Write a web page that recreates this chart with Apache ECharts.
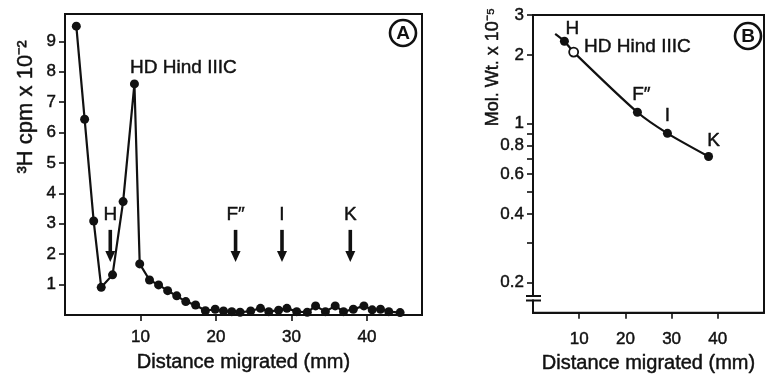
<!DOCTYPE html>
<html>
<head>
<meta charset="utf-8">
<script src="https://cdn.jsdelivr.net/npm/echarts@6/dist/echarts.min.js"></script>
<style>
html,body{margin:0;padding:0;background:#fff;}
#chart{width:770px;height:379px;}
</style>
</head>
<body>
<div id="chart"></div>
<script>
// ---------- Panel A data ----------
var distA = [1.5, 2.6, 3.8, 4.8, 6.3, 7.7, 9.2, 9.9, 11.2, 12.4, 13.6, 14.8, 16.0, 17.3, 18.6, 19.9, 21.0, 22.1, 23.2, 24.6, 25.9, 27.0, 28.3, 29.4, 30.7, 32.1, 33.2, 34.5, 35.8, 36.9, 38.2, 39.6, 40.7, 41.8, 42.9, 44.4];
var cpmA  = [9.5, 6.44, 3.09, 0.91, 1.32, 3.73, 7.6, 1.68, 1.15, 0.99, 0.8, 0.63, 0.44, 0.33, 0.14, 0.19, 0.13, 0.11, 0.09, 0.13, 0.22, 0.11, 0.16, 0.22, 0.11, 0.09, 0.3, 0.11, 0.3, 0.11, 0.19, 0.3, 0.17, 0.19, 0.11, 0.08];
var peakIndexA = 6;
var peakLabelA = 'HD Hind IIIC';
var markerLabelsA = ['H', 'F\u2033', 'I', 'K'];
var markerDistA = [6.0, 22.6, 28.75, 37.8];
var ticksA_y = [1, 2, 3, 4, 5, 6, 7, 8, 9];
var ticksA_x = [10, 20, 30, 40];

// ---------- Panel B data ----------
var distB = [4.8, 6.8, 8.8, 22.6, 29.1, 38.0];
var molWtB = [2.48, 2.30, 2.06, 1.12, 0.905, 0.716];
var labelsB = ['', 'H', 'HD Hind IIIC', 'F\u2033', 'I', 'K'];
var markerKindB = ['none', 'filled', 'open', 'filled', 'filled', 'filled'];
var ticksB_y = [0.2, 0.3, 0.4, 0.5, 0.6, 0.7, 0.8, 0.9, 1, 2, 3];
var labelsB_y = [0.2, 0.4, 0.6, 0.8, 1, 2, 3];
var ticksB_x = [10, 20, 30, 40];

var FONT = '"Liberation Sans", Arial, Helvetica, sans-serif';
var INK = '#111';
var THICK = {textBorderColor: INK, textBorderWidth: 0.45};

var chart = echarts.init(document.getElementById('chart'), null, {renderer: 'canvas'});

var seriesAData = distA.map(function (d, i) {
  var item = {value: [d, cpmA[i]]};
  if (i === peakIndexA) {
    item.label = Object.assign({show: true, formatter: peakLabelA, position: 'top', offset: [49, 3],
      fontSize: 19, fontFamily: FONT, color: INK}, THICK);
  }
  return item;
});

var labelPosB = {
  'H': {position: 'top', offset: [8, 7]},
  'HD Hind IIIC': {position: 'right', offset: [0, -5]},
  'F\u2033': {position: 'top', offset: [4, 1]},
  'I': {position: 'top', offset: [0, 1]},
  'K': {position: 'top', offset: [5, 3]}
};
var seriesBData = distB.map(function (d, i) {
  var kind = markerKindB[i];
  var item = {value: [d, molWtB[i]]};
  if (kind === 'none') { item.symbol = 'none'; }
  else if (kind === 'open') {
    item.symbol = 'circle';
    item.itemStyle = {color: '#fff', borderColor: INK, borderWidth: 1.8};
  }
  if (labelsB[i]) {
    var p = labelPosB[labelsB[i]];
    item.label = Object.assign({show: true, formatter: labelsB[i], position: p.position, offset: p.offset,
      fontSize: 19, fontFamily: FONT, color: INK}, THICK);
  }
  return item;
});

var axisLineStyle = {show: true, lineStyle: {color: INK, width: 2}};
var tickStyle = {show: true, inside: false, length: 6, lineStyle: {color: INK, width: 1.6}};
var labelStyle = Object.assign({color: INK, fontSize: 17, fontFamily: FONT}, THICK);
var nameStyle = Object.assign({fontSize: 20, fontFamily: FONT, color: INK}, THICK);

var option = {
  animation: false,
  backgroundColor: '#fff',
  grid: [
    {left: 65, top: 14, width: 357, height: 301, show: true, borderColor: INK, borderWidth: 2, containLabel: false},
    {left: 533, top: 15, width: 231, height: 301, show: true, borderColor: INK, borderWidth: 2, containLabel: false}
  ],
  xAxis: [
    {type: 'value', gridIndex: 0, min: 0, max: 47.3,
     axisLine: axisLineStyle,
     axisTick: Object.assign({}, tickStyle, {customValues: ticksA_x}),
     axisLabel: Object.assign({}, labelStyle, {customValues: ticksA_x, margin: 14}),
     splitLine: {show: false},
     name: 'Distance migrated (mm)', nameLocation: 'middle', nameGap: 37,
     nameTextStyle: nameStyle},
    {type: 'value', gridIndex: 1, min: 0, max: 50,
     axisLine: axisLineStyle,
     axisTick: Object.assign({}, tickStyle, {customValues: ticksB_x}),
     axisLabel: Object.assign({}, labelStyle, {customValues: ticksB_x, margin: 18}),
     splitLine: {show: false},
     name: 'Distance migrated (mm)', nameLocation: 'middle', nameGap: 41,
     nameTextStyle: nameStyle}
  ],
  yAxis: [
    {type: 'value', gridIndex: 0, min: 0, max: 9.9,
     axisLine: axisLineStyle,
     axisTick: Object.assign({}, tickStyle, {customValues: ticksA_y}),
     axisLabel: Object.assign({}, labelStyle, {customValues: ticksA_y, margin: 9}),
     splitLine: {show: false}},
    {type: 'log', logBase: 10, gridIndex: 1, min: 0.147, max: 3,
     axisLine: axisLineStyle,
     axisTick: Object.assign({}, tickStyle, {customValues: ticksB_y}),
     axisLabel: Object.assign({}, labelStyle, {customValues: labelsB_y, margin: 9,
       formatter: function (v) { return String(Math.round(v * 10) / 10); }}),
     minorTick: {show: false},
     splitLine: {show: false}}
  ],
  series: [
    {type: 'line', xAxisIndex: 0, yAxisIndex: 0, data: seriesAData,
     symbol: 'circle', symbolSize: 9, showAllSymbol: true,
     lineStyle: {color: INK, width: 2.2}, itemStyle: {color: INK}, z: 3},
    {type: 'custom', xAxisIndex: 0, yAxisIndex: 0,
     data: markerDistA.map(function (d, i) { return [d, i]; }),
     clip: false, z: 4,
     renderItem: function (params, api) {
       var x = api.value(0);
       var idx = api.value(1);
       var top = api.coord([x, 2.8]);
       var tip = api.coord([x, 1.74]);
       var lab = api.coord([x, 3.3]);
       var headLen = 11, headHalf = 5;
       return {
         type: 'group',
         children: [
           {type: 'rect', shape: {x: top[0] - 1.8, y: top[1], width: 3.6, height: tip[1] - headLen - top[1] + 1},
            style: {fill: INK}},
           {type: 'polygon', shape: {points: [[tip[0] - headHalf, tip[1] - headLen], [tip[0] + headHalf, tip[1] - headLen], [tip[0], tip[1]]]},
            style: {fill: INK}},
           {type: 'text', x: lab[0], y: lab[1],
            style: {text: markerLabelsA[idx], fill: INK, font: '19px ' + FONT, align: 'center', verticalAlign: 'middle',
                    stroke: INK, lineWidth: 0.45}}
         ]
       };
     }},
    {type: 'line', xAxisIndex: 1, yAxisIndex: 1, data: seriesBData,
     symbol: 'circle', symbolSize: 9, showAllSymbol: true, smooth: 0.25,
     lineStyle: {color: INK, width: 2.2}, itemStyle: {color: INK}, z: 3}
  ],
  graphic: [
    {type: 'text', x: 26, y: 107, rotation: Math.PI / 2,
     style: {text: '\u00b3H cpm x 10\u207b\u00b2', fill: INK, font: '22px ' + FONT, align: 'center', verticalAlign: 'middle',
             stroke: INK, lineWidth: 0.45}},
    {type: 'text', x: 493, y: 67, rotation: Math.PI / 2,
     style: {text: 'Mol. Wt. x 10\u207b\u2075', fill: INK, font: '18px ' + FONT, align: 'center', verticalAlign: 'middle',
             stroke: INK, lineWidth: 0.45}},
    {type: 'circle', shape: {cx: 403, cy: 33, r: 13}, style: {fill: '#fff', stroke: INK, lineWidth: 2.6}},
    {type: 'text', x: 403, y: 33.5, style: {text: 'A', fill: INK, font: 'bold 19px ' + FONT, align: 'center', verticalAlign: 'middle'}},
    {type: 'circle', shape: {cx: 748, cy: 36, r: 13}, style: {fill: '#fff', stroke: INK, lineWidth: 2.6}},
    {type: 'text', x: 748, y: 36.5, style: {text: 'B', fill: INK, font: 'bold 19px ' + FONT, align: 'center', verticalAlign: 'middle'}},
    {type: 'rect', shape: {x: 62, y: 85, width: 6, height: 6}, style: {fill: '#fff'}},
    {type: 'rect', shape: {x: 530, y: 296.5, width: 6, height: 3}, style: {fill: '#fff'}, z: 10},
    {type: 'line', shape: {x1: 526, y1: 296, x2: 541, y2: 296}, style: {stroke: INK, lineWidth: 2}, z: 10},
    {type: 'line', shape: {x1: 526, y1: 300.5, x2: 541, y2: 300.5}, style: {stroke: INK, lineWidth: 2}, z: 10}
  ]
};
chart.setOption(option);
</script>
</body>
</html>
